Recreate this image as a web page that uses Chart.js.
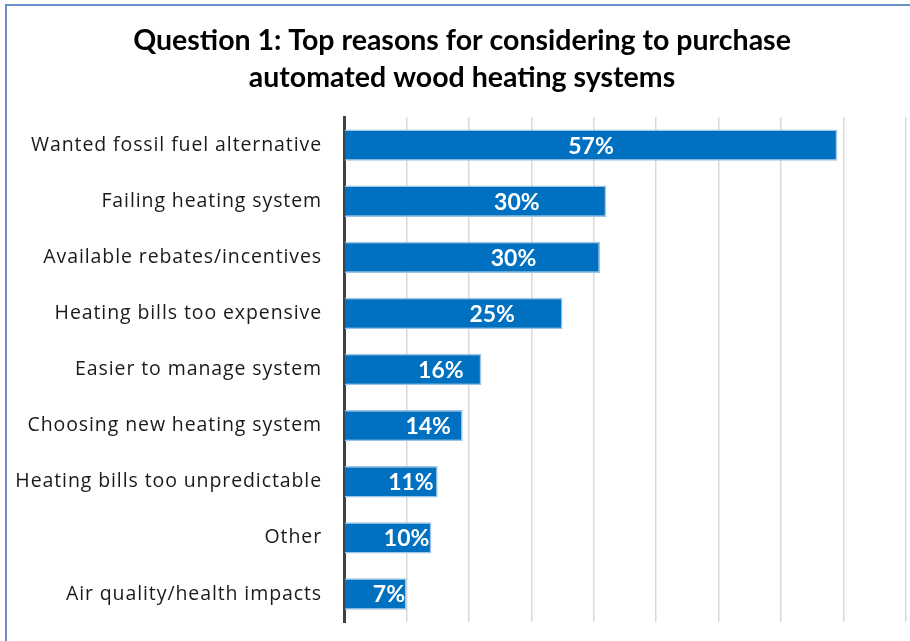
<!DOCTYPE html>
<html lang="en">
<head>
    <meta charset="UTF-8">
    <title>Question 1: Top reasons</title>
    <script src="https://cdn.jsdelivr.net/npm/chart.js"></script>
    <style>
        body {
            margin: 0;
            background: #ffffff;
        }
        #wrap {
            width: 910px;
            height: 641px;
        }
    </style>
</head>
<body>
    <div id="wrap"><canvas id="reasonsChart" width="910" height="641"></canvas></div>

    <script>
        // categories (top to bottom)
        const reasons = [
            'Wanted fossil fuel alternative',
            'Failing heating system',
            'Available rebates/incentives',
            'Heating bills too expensive',
            'Easier to manage system',
            'Choosing new heating system',
            'Heating bills too unpredictable',
            'Other',
            'Air quality/health impacts'
        ];
        // respondent counts (bar lengths, axis 0-90)
        const counts = [79, 42, 41, 35, 22, 19, 15, 14, 10];
        // labels printed inside the bars
        const pctLabels = ['57%', '30%', '30%', '25%', '16%', '14%', '11%', '10%', '7%'];

        const TITLE_FONT = 'Lato, "Open Sans", sans-serif';
        const LABEL_FONT = '"Open Sans", Lato, sans-serif';

        // white background + the thin blue frame of the original chart
        const framePlugin = {
            id: 'frame',
            beforeDraw(chart) {
                const c = chart.ctx;
                c.save();
                c.fillStyle = '#ffffff';
                c.fillRect(0, 0, chart.width, chart.height);
                c.strokeStyle = '#6b90c9';
                c.lineWidth = 2;
                c.strokeRect(6, 5, chart.width + 20, chart.height + 20);
                c.restore();
            }
        };

        // category names, drawn by hand so the letter spacing can match
        const categoryLabels = {
            id: 'categoryLabels',
            afterDraw(chart) {
                const c = chart.ctx;
                const y = chart.scales.y;
                c.save();
                c.font = '19.5px ' + LABEL_FONT;
                if ('letterSpacing' in c) c.letterSpacing = '0.9px';
                c.fillStyle = '#1a1a1a';
                c.textAlign = 'right';
                c.textBaseline = 'middle';
                reasons.forEach((name, i) => {
                    c.fillText(name, chart.chartArea.left - 22, y.getPixelForTick(i));
                });
                c.restore();
            }
        };

        // white bold labels inside the bars
        const barLabels = {
            id: 'barLabels',
            afterDatasetsDraw(chart) {
                const c = chart.ctx;
                const meta = chart.getDatasetMeta(0);
                const maxW = Math.max(...meta.data.map(b => b.x - b.base));
                c.save();
                c.font = 'bold 23px ' + TITLE_FONT;
                c.fillStyle = '#ffffff';
                c.textAlign = 'center';
                c.textBaseline = 'middle';
                meta.data.forEach((bar, i) => {
                    const w = bar.x - bar.base;
                    const f = 0.72 - 0.22 * Math.pow(w / maxW, 2);
                    c.fillText(pctLabels[i], bar.base + w * f, bar.y + 1);
                });
                c.restore();
            }
        };

        const ctx = document.getElementById('reasonsChart').getContext('2d');
        const chart = new Chart(ctx, {
            type: 'bar',
            data: {
                labels: reasons,
                datasets: [{
                    data: counts,
                    backgroundColor: '#0070c0',
                    borderColor: '#9dc3e6',
                    borderWidth: 1.5,
                    borderSkipped: 'start',
                    barPercentage: 0.56,
                    categoryPercentage: 1
                }]
            },
            options: {
                indexAxis: 'y',
                responsive: false,
                animation: false,
                layout: {
                    padding: { top: 20, left: 18, right: 4, bottom: 19 }
                },
                plugins: {
                    legend: { display: false },
                    tooltip: { enabled: false },
                    title: {
                        display: true,
                        text: ['Question 1: Top reasons for considering to purchase', 'automated wood heating systems'],
                        color: '#000000',
                        font: { family: TITLE_FONT, size: 28.5, weight: 'bold', lineHeight: 1.3 },
                        padding: { top: 2, bottom: 21 }
                    }
                },
                scales: {
                    x: {
                        min: 0,
                        max: 90,
                        afterFit(scale) { scale.height = 0; },
                        ticks: { display: false, stepSize: 10 },
                        grid: { color: '#d9d9d9', lineWidth: 1.5, drawTicks: false },
                        border: { display: false }
                    },
                    y: {
                        afterFit(scale) {
                            scale.width = 344 - 18;
                            scale.paddingTop = 0;
                            scale.paddingBottom = 0;
                        },
                        ticks: { display: false },
                        grid: { display: false, drawTicks: false },
                        border: { display: true, color: '#404040', width: 3 }
                    }
                }
            },
            plugins: [framePlugin, categoryLabels, barLabels]
        });
    </script>
</body>
</html>
